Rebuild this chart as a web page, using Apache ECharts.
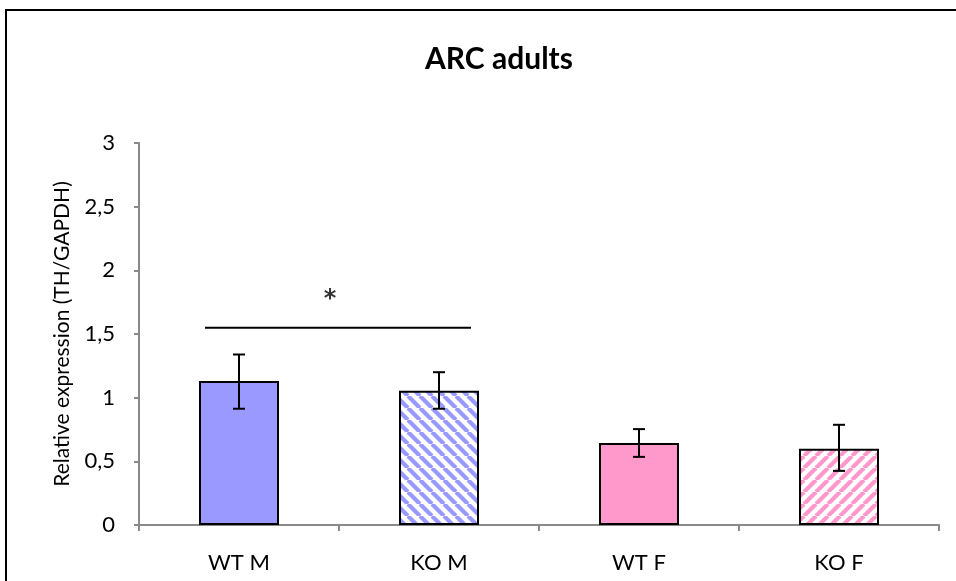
<!DOCTYPE html>
<html>
<head>
<meta charset="utf-8">
<script src="https://cdn.jsdelivr.net/npm/echarts@6/dist/echarts.min.js"></script>
<style>html,body{margin:0;padding:0;background:#fff}#c{width:956px;height:581px}</style>
</head>
<body>
<div id="c"></div>
<script>
// ---- data ----
var categories = ['WT M', 'KO M', 'WT F', 'KO F'];
var means = [1.13, 1.055, 0.643, 0.598];
var errLow = [0.913, 0.913, 0.535, 0.425];
var errHigh = [1.339, 1.20, 0.753, 0.787];
var yTicks = [0, 0.5, 1, 1.5, 2, 2.5, 3];
var sigLineX = [0.33, 1.66];   // in category units (0..4)
var sigLineY = 1.55;
var sigMark = { x: 0.955, y: 1.77, text: '*' };

// ---- styles ----
var FONT = 'Lato, "Open Sans", sans-serif';
function stripe(color, dir) {
  var s = 12, c = document.createElement('canvas');
  c.width = s; c.height = s;
  var g = c.getContext('2d');
  g.fillStyle = '#fff'; g.fillRect(0, 0, s, s);
  g.strokeStyle = color; g.lineWidth = 4.2;
  for (var k = -1; k <= 1; k++) {
    g.beginPath();
    if (dir === 'back') { g.moveTo(k * s, 0); g.lineTo(k * s + s, s); }
    else { g.moveTo(k * s, s); g.lineTo(k * s + s, 0); }
    g.stroke();
  }
  return { image: c, repeat: 'repeat' };
}
var fills = ['#9999ff', stripe('#9999ff', 'back'), '#ff99cc', stripe('#ff99cc', 'fwd')];

var chart = echarts.init(document.getElementById('c'), null, { renderer: 'canvas' });
chart.setOption({
  animation: false,
  backgroundColor: '#fff',
  title: {
    text: 'ARC adults', left: 494, textAlign: 'center', top: 39,
    textStyle: { fontFamily: FONT, fontSize: 30, fontWeight: 'bold', color: '#000' }
  },
  graphic: [{
    type: 'rect', shape: { x: 6, y: 10, width: 1000, height: 1000 },
    style: { fill: 'none', stroke: '#000', lineWidth: 2 }, silent: true
  }],
  grid: { left: 139, right: 17, top: 143, bottom: 56 },
  xAxis: [{
    type: 'category', data: categories,
    axisLine: { lineStyle: { color: '#898989', width: 2 } },
    axisTick: { show: true, length: 6, lineStyle: { color: '#898989', width: 2 } },
    axisLabel: { margin: 27, fontFamily: FONT, fontSize: 22, color: '#000' }
  }, {
    type: 'value', min: 0, max: 4, show: false
  }],
  yAxis: {
    type: 'value', min: 0, max: 3, interval: 0.5,
    name: 'Relative expression (TH/GAPDH)', nameLocation: 'middle', nameGap: 66,
    nameTextStyle: { fontFamily: FONT, fontSize: 21, color: '#000' },
    axisLine: { show: true, lineStyle: { color: '#898989', width: 2 } },
    axisTick: { show: true, length: 5, lineStyle: { color: '#898989', width: 2 } },
    splitLine: { show: false },
    axisLabel: {
      margin: 24, fontFamily: FONT, fontSize: 22, color: '#000',
      formatter: function (v) { return String(v).replace('.', ','); }
    }
  },
  series: [{
    type: 'bar', barWidth: 80,
    data: means.map(function (v, i) {
      return { value: v, itemStyle: { color: fills[i], borderColor: '#000', borderWidth: 2 } };
    })
  }, {
    type: 'custom',
    data: categories.map(function (c, i) { return [i, errLow[i], errHigh[i]]; }),
    renderItem: function (params, api) {
      var lo = api.coord([api.value(0), api.value(1)]);
      var hi = api.coord([api.value(0), api.value(2)]);
      var w = 6, st = { stroke: '#000', lineWidth: 2 };
      return { type: 'group', children: [
        { type: 'line', shape: { x1: hi[0], y1: hi[1], x2: lo[0], y2: lo[1] }, style: st },
        { type: 'line', shape: { x1: hi[0] - w, y1: hi[1], x2: hi[0] + w, y2: hi[1] }, style: st },
        { type: 'line', shape: { x1: lo[0] - w, y1: lo[1], x2: lo[0] + w, y2: lo[1] }, style: st }
      ]};
    },
    z: 5
  }, {
    type: 'line', xAxisIndex: 1, symbol: 'none',
    data: [[sigLineX[0], sigLineY], [sigLineX[1], sigLineY]],
    lineStyle: { color: '#000', width: 2 }
  }, {
    type: 'scatter', xAxisIndex: 1, symbolSize: 1, itemStyle: { color: 'transparent' },
    data: [[sigMark.x, sigMark.y]],
    label: { show: true, position: 'inside', formatter: sigMark.text,
      fontFamily: '"DejaVu Sans", sans-serif', fontSize: 24, fontWeight: 'bold', color: '#000' }
  }]
});
</script>
</body>
</html>
